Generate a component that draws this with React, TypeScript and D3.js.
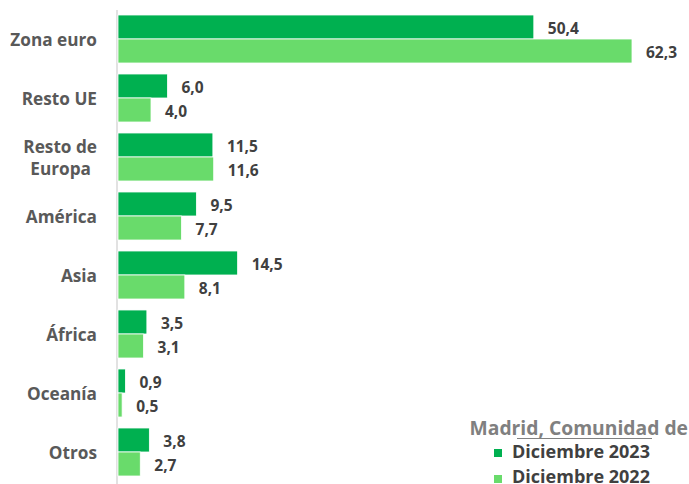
import React from 'react';
import * as d3 from 'd3';

const categories = ['Zona euro', 'Resto UE', 'Resto de Europa', 'América', 'Asia', 'África', 'Oceanía', 'Otros'];
const categoryLines: Record<string, string[]> = { 'Resto de Europa': ['Resto de', 'Europa'] };
const dic2023 = [50.4, 6.0, 11.5, 9.5, 14.5, 3.5, 0.9, 3.8];
const dic2022 = [62.3, 4.0, 11.6, 7.7, 8.1, 3.1, 0.5, 2.7];
const seriesNames = ['Diciembre 2023', 'Diciembre 2022'];
const legendTitle = 'Madrid, Comunidad de';

const W = 689;
const H = 484;
const colors = ['#00B050', '#69DB6B'];
const font = '"Open Sans", "DejaVu Sans", sans-serif';
const fmt = (v: number) => v.toFixed(1).replace('.', ',');

export default function App() {
  const x = d3.scaleLinear().domain([0, 62.3]).range([118, 632]);
  const y = d3.scaleBand<string>().domain(categories).range([9.5, 481.5]).paddingInner(0.186).paddingOuter(0.093);
  const half = y.bandwidth() / 2;
  const series = [dic2023, dic2022];

  return (
    <svg width={W} height={H} style={{ position: 'absolute', left: 0, top: 0, fontFamily: font }}>
      <rect width={W} height={H} fill="#fff" />
      <line x1={117} x2={117} y1={10} y2={484} stroke="#d9d9d9" strokeWidth={1.5} />
      {categories.map((c, i) => {
        const y0 = y(c)!;
        const lines = categoryLines[c] || [c];
        const cy = y0 + half;
        return (
          <g key={c}>
            {series.map((s, k) => (
              <g key={k}>
                <rect x={x(0)} y={y0 + k * half} width={x(s[i]) - x(0)} height={half}
                  fill={colors[k]} stroke="#fff" strokeWidth={0.8} />
                <text x={x(s[i]) + 14} y={y0 + k * half + half / 2 + 1} dominantBaseline="central"
                  fontSize={15.5} fontWeight={700} fill="#404040">{fmt(s[i])}</text>
              </g>
            ))}
            {lines.map((l, j) => (
              <text key={j} x={97 - (j > 0 ? 6 : 0)} y={cy + (j - (lines.length - 1) / 2) * 22}
                dominantBaseline="central" textAnchor="end" fontSize={17.2} fontWeight={700} fill="#595959">{l}</text>
            ))}
          </g>
        );
      })}
      <text x={688} y={435} textAnchor="end" fontSize={19.3} fontWeight={700} fill="#808080">{legendTitle}</text>
      <line x1={517} x2={652} y1={438.5} y2={438.5} stroke="#808080" strokeWidth={1} />
      {seriesNames.map((n, k) => (
        <g key={n}>
          <rect x={494} y={449 + k * 26} width={8} height={8} fill={colors[k]} />
          <text x={512} y={458 + k * 24.5} fontSize={18} fontWeight={700} fill="#404040">{n}</text>
        </g>
      ))}
    </svg>
  );
}
